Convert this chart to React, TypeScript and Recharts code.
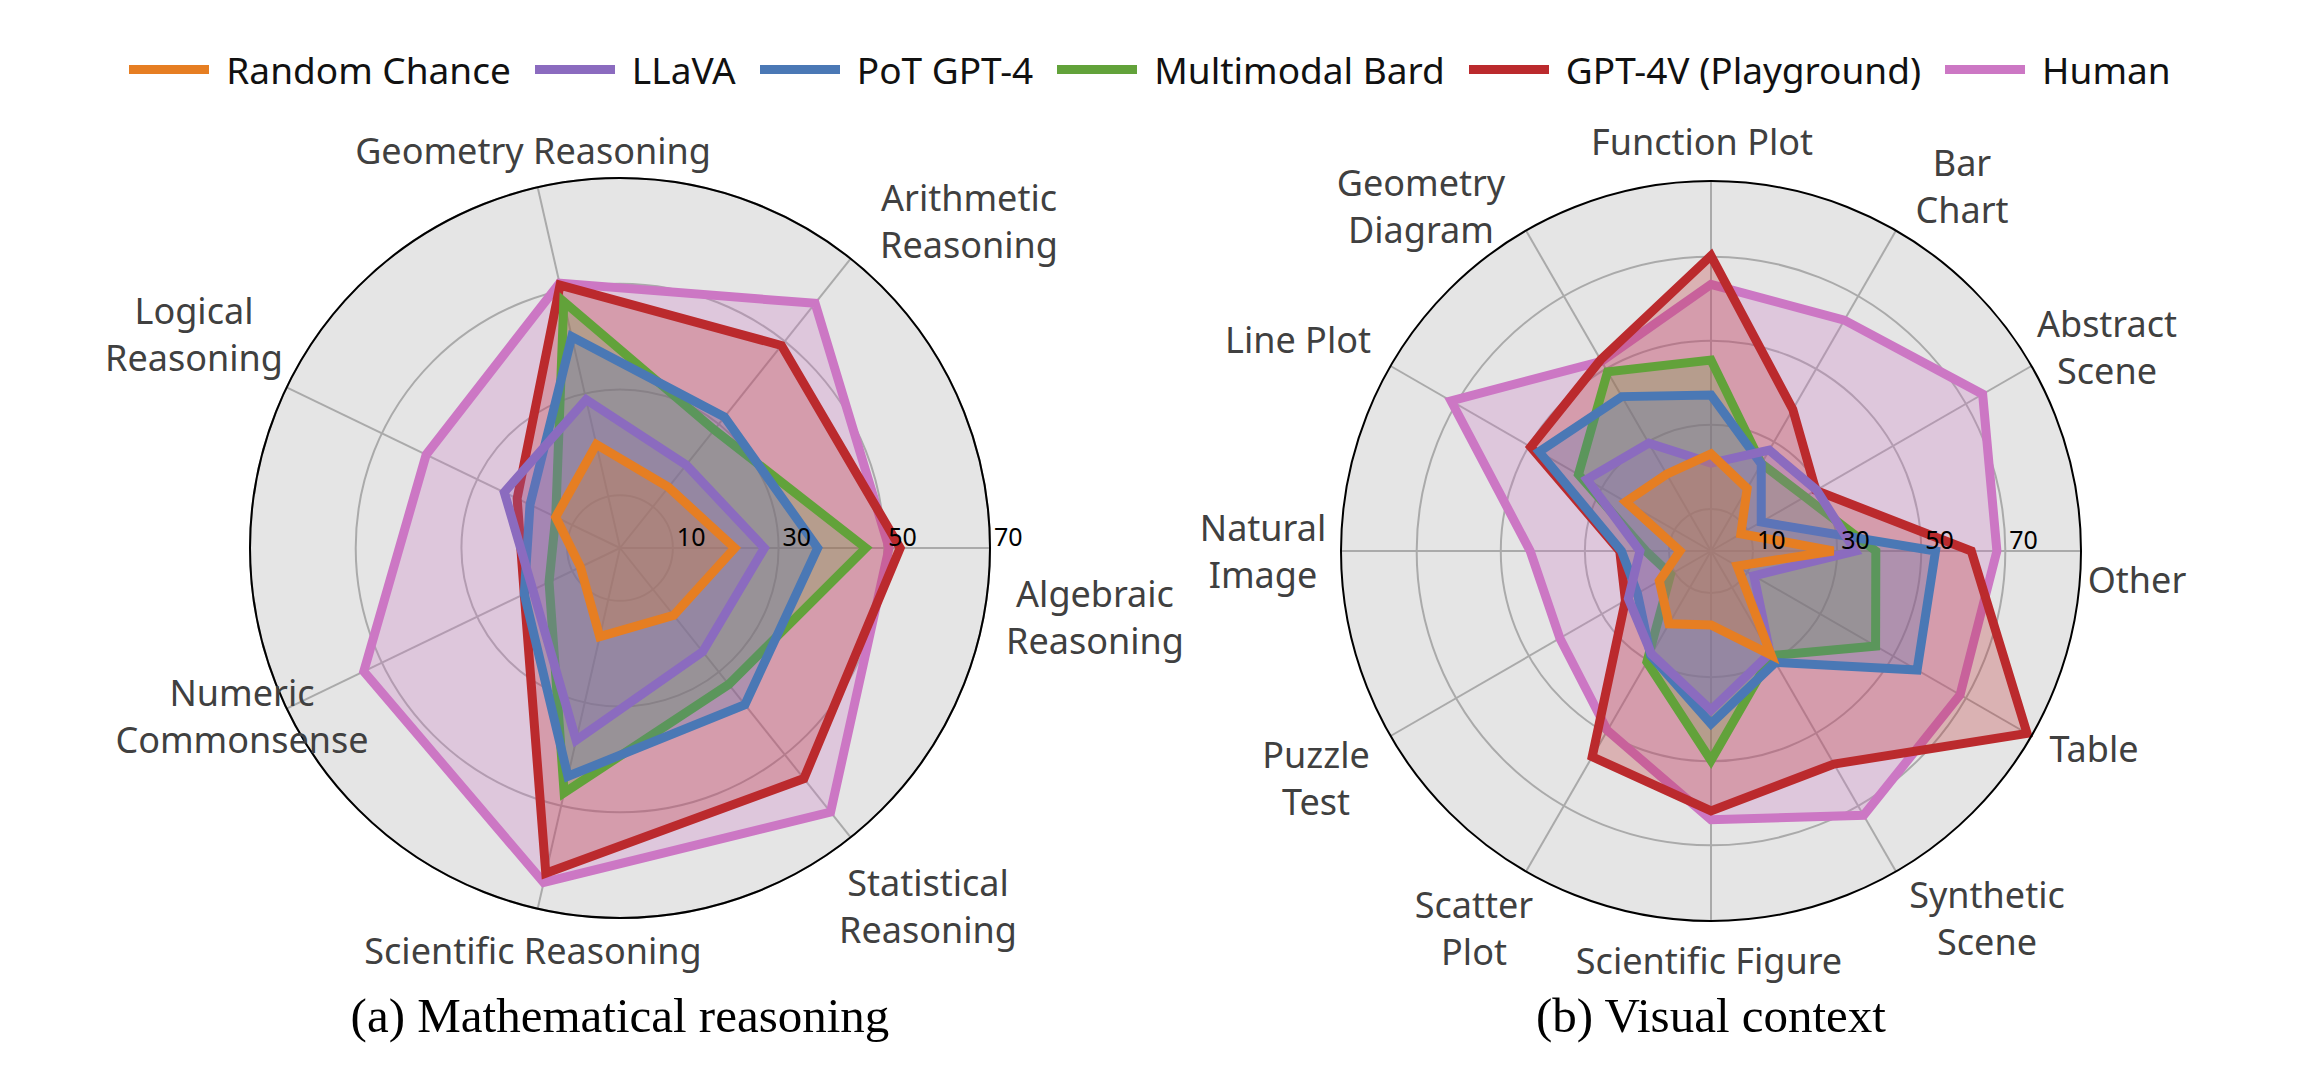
import React from "react";
import { RadarChart, Radar, PolarGrid, PolarAngleAxis, PolarRadiusAxis } from "recharts";

// (a) Mathematical reasoning
const mathCategories = [
  "Algebraic\nReasoning", "Arithmetic\nReasoning", "Geometry Reasoning", "Logical\nReasoning",
  "Numeric\nCommonsense", "Scientific Reasoning", "Statistical\nReasoning",
];
const mathRandom = [21.7, 14.7, 20.1, 13.5, 8.3, 17.2, 16.3];
const mathLlava = [27.3, 20.1, 28.8, 24.3, 18.3, 37.3, 25.1];
const mathPot = [37.4, 31.7, 41.0, 18.9, 20.1, 44.3, 37.9];
const mathBard = [46.5, 28.6, 47.8, 13.5, 14.9, 47.5, 33.0];
const mathGpt4v = [53.0, 49.0, 51.0, 21.6, 20.1, 63.1, 55.8];
const mathHuman = [50.9, 59.2, 51.4, 40.7, 53.8, 64.9, 63.9];
const mathTicks = [10, 30, 50, 70];

// (b) Visual context
const visualCategories = [
  "Other", "Abstract\nScene", "Bar\nChart", "Function Plot", "Geometry\nDiagram", "Line Plot",
  "Natural\nImage", "Puzzle\nTest", "Scatter\nPlot", "Scientific Figure", "Synthetic\nScene", "Table",
];
const visualRandom = [29.1, 8.2, 17.2, 23.1, 21.1, 23.4, 7.4, 14.2, 20.0, 17.6, 28.6, 7.2];
const visualLlava = [34.3, 29.0, 27.7, 20.9, 29.6, 34.1, 16.9, 22.7, 28.3, 37.8, 28.1, 11.8];
const visualPot = [53.4, 13.8, 23.9, 37.1, 42.4, 47.2, 21.3, 20.2, 28.7, 41.1, 30.6, 56.6];
const visualBard = [39.2, 25.8, 24.0, 45.4, 49.2, 36.4, 15.5, 11.1, 30.5, 49.8, 28.7, 45.2];
const visualGpt4v = [61.9, 28.8, 38.9, 70.2, 52.5, 49.5, 21.7, 23.5, 56.5, 61.8, 58.5, 86.8];
const visualHuman = [68.0, 74.6, 63.4, 63.4, 52.1, 71.4, 43.0, 41.5, 49.3, 63.9, 72.6, 68.4];
const visualTicks = [10, 30, 50, 70];

const seriesNames = ["Random Chance", "LLaVA", "PoT GPT-4", "Multimodal Bard", "GPT-4V (Playground)", "Human"];
const seriesKeys = ["random", "llava", "pot", "bard", "gpt4v", "human"];
const seriesColors = ["#e67e22", "#8b6bbf", "#4a78b5", "#62a23a", "#bb2a2d", "#cc77c4"];

// label block centres, relative to the chart centre
const mathLabelOffsets = [[475, 69], [349, -327], [-87, -398], [-426, -214], [-378, 168], [-87, 402], [308, 358]];
const visualLabelOffsets = [
  [426, 28], [396, -204], [251, -365], [-9, -410], [-290, -345], [-413, -212],
  [-448, 0], [-395, 227], [-237, 377], [-2, 409], [276, 367], [383, 197],
];

const SANS = "'Noto Sans', 'Open Sans', sans-serif";
const R = 370;
const W = 1240;

function buildRows(categories: string[], lists: number[][]) {
  return categories.map((c, i) => {
    const row: Record<string, any> = { category: c };
    seriesKeys.forEach((k, s) => (row[k] = lists[s][i]));
    return row;
  });
}

const mathRows = buildRows(mathCategories, [mathRandom, mathLlava, mathPot, mathBard, mathGpt4v, mathHuman]);
const visualRows = buildRows(visualCategories, [visualRandom, visualLlava, visualPot, visualBard, visualGpt4v, visualHuman]);

function Panel({ rows, categories, ticks, maxValue, left, cx, cy, offsets, title }: any) {
  // recharts puts the first category one step past startAngle, so start one step early
  const step = 360 / categories.length;
  const angleTick = (p: any) => {
    const idx = categories.indexOf(p.payload.value);
    const lines = String(p.payload.value).split("\n");
    const [dx, dy] = offsets[idx];
    const lh = 47;
    return (
      <g>
        {lines.map((ln: string, j: number) => (
          <text key={j} x={cx + dx} y={cy + dy + (j - (lines.length - 1) / 2) * lh}
            textAnchor="middle" dominantBaseline="central" fontSize={36} fill="#404040" fontFamily={SANS}>
            {ln}
          </text>
        ))}
      </g>
    );
  };
  const radiusTick = (p: any) => (
    <text x={p.x + 4} y={p.y - 2} textAnchor="start" fontSize={25} fill="#000" fontFamily={SANS}>
      {p.payload.value}
    </text>
  );
  const order = [5, 4, 3, 2, 1, 0];
  return (
    <div style={{ position: "absolute", left, top: 0, width: W, height: 1066 }}>
      <div style={{
        position: "absolute", left: cx - R, top: cy - R, width: 2 * R, height: 2 * R,
        borderRadius: "50%", background: "#e5e5e5",
      }} />
      <div style={{ position: "absolute", left: 0, top: 0 }}>
        <RadarChart width={W} height={1066} data={rows} cx={cx} cy={cy} outerRadius={R}
          startAngle={-step} endAngle={360 - step} margin={{ top: 0, right: 0, bottom: 0, left: 0 }}>
          <PolarGrid gridType="circle" stroke="#aaaaaa" strokeWidth={2} />
          <PolarAngleAxis dataKey="category" tick={angleTick} tickLine={false}
            axisLine={{ stroke: "#000", strokeWidth: 2 }} axisLineType="circle" />
          <PolarRadiusAxis angle={0} type="number" domain={[0, maxValue]} ticks={ticks}
            axisLine={false} tickLine={false} tick={radiusTick} />
          {order.map((s) => (
            <Radar key={seriesKeys[s]} dataKey={seriesKeys[s]} name={seriesNames[s]}
              stroke={seriesColors[s]} strokeWidth={9} fill={seriesColors[s]} fillOpacity={0.27}
              dot={false} isAnimationActive={false} />
          ))}
        </RadarChart>
      </div>
      <div style={{
        position: "absolute", left: cx - 500, width: 1000, top: 987, textAlign: "center",
        fontFamily: "'Liberation Serif', 'Times New Roman', serif", fontSize: 49, color: "#000",
      }}>{title}</div>
    </div>
  );
}

function Legend() {
  return (
    <div style={{
      position: "absolute", left: 0, top: 44, width: 2300, display: "flex",
      justifyContent: "center", alignItems: "center", gap: 24,
    }}>
      {seriesNames.map((n, i) => (
        <div key={n} style={{ display: "flex", alignItems: "center", gap: 17 }}>
          <div style={{ width: 80, height: 9, background: seriesColors[i] }} />
          <span style={{ fontFamily: SANS, fontSize: 37, color: "#111" }}>{n}</span>
        </div>
      ))}
    </div>
  );
}

export default function App() {
  return (
    <div style={{ position: "absolute", left: 0, top: 0, width: 2324, height: 1066, background: "#fff", overflow: "hidden" }}>
      <Panel rows={mathRows} categories={mathCategories} ticks={mathTicks} maxValue={70}
        left={0} cx={620} cy={548} offsets={mathLabelOffsets} title="(a) Mathematical reasoning" />
      <Panel rows={visualRows} categories={visualCategories} ticks={visualTicks} maxValue={88}
        left={1084} cx={627} cy={551} offsets={visualLabelOffsets} title="(b) Visual context" />
      <Legend />
    </div>
  );
}
